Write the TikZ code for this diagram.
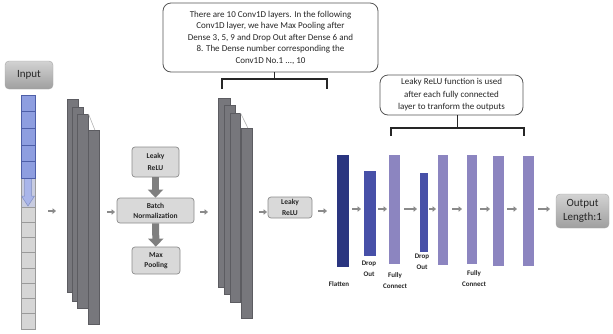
\documentclass[tikz,border=0pt]{standalone}
\usepackage{fontspec}
\setmainfont{Carlito}
\usetikzlibrary{arrows.meta,calc}
\definecolor{convgray}{HTML}{77777C}
\definecolor{convedge}{HTML}{5C5C61}
\definecolor{navy}{HTML}{2A3580}
\definecolor{dropblue}{HTML}{4750A8}
\definecolor{lav}{HTML}{8C85C0}
\definecolor{cellblue}{HTML}{8E9EE0}
\definecolor{celledge}{HTML}{4E5FA8}
\definecolor{midblue}{HTML}{C8CCE0}
\definecolor{arrowblue}{HTML}{A9B5EA}
\definecolor{cellgray}{HTML}{D6D6D6}
\definecolor{celllines}{HTML}{9A9A9A}
\definecolor{boxfill}{HTML}{D9D9D9}
\definecolor{boxedge}{HTML}{8C8C8C}
\definecolor{arrgray}{HTML}{8A8A8A}
\definecolor{bigarrgray}{HTML}{7F7F7F}
\definecolor{txt}{HTML}{262626}
\definecolor{calledge}{HTML}{555555}
\begin{document}
\begin{tikzpicture}[x=1pt,y=-1pt,
  conv/.style={draw=convedge, fill=convgray, line width=0.5pt, anchor=north west, inner sep=0pt, minimum width=11pt},
  bar/.style={anchor=north west, inner sep=0pt},
  opbox/.style={draw=boxedge, fill=boxfill, rounded corners=3pt, line width=0.7pt, inner sep=0pt, align=center, text=txt, font=\fontsize{7.5}{10}\selectfont\bfseries},
  iobox/.style={draw=gray!70, top color=gray!35, bottom color=gray!75, rounded corners=4pt, inner sep=0pt, align=center, text=txt, font=\fontsize{11}{14}\selectfont},
  callout/.style={draw=calledge, fill=white, rounded corners=8pt, line width=0.8pt, inner sep=0pt, align=center, text=txt},
  sarr/.style={draw=arrgray, line width=1.6pt, -{Triangle[length=3.5pt,width=5.5pt]}},
  bigarr/.style={draw=bigarrgray, line width=7pt, -{Triangle[length=8pt,width=15pt]}},
  brace/.style={draw=txt, line width=1.1pt},
  lbl/.style={inner sep=0pt, align=center, text=txt, font=\fontsize{7}{11}\selectfont\bfseries}
]
\useasboundingbox (0,0) rectangle (613,333);

% Input box and column
\node[iobox, minimum width=48pt, minimum height=28pt] (inp) at (29,75) {Input};
\node[bar, fill=midblue, draw=celllines, line width=0.5pt, minimum width=14pt, minimum height=29pt] (mid) at (21,178) {};
\fill[arrowblue, draw=celledge!70, line width=0.5pt] (24.5,178) -- (31.5,178) -- (31.5,196) -- (34.5,196) -- (28,206) -- (21.5,196) -- (24.5,196) -- cycle;
\node[bar, fill=cellblue, draw=celledge, line width=0.7pt, minimum width=14pt, minimum height=83pt] (blue) at (21,95) {};
\foreach \yy in {111.6,128.2,144.8,161.4} \draw[celledge, line width=0.6pt] (21,\yy) -- (35,\yy);
\node[bar, fill=cellgray, draw=celllines, line width=0.6pt, minimum width=14pt, minimum height=122pt] (grayc) at (21,207) {};
\foreach \k in {1,...,7} \draw[celllines, line width=0.6pt] (21,207+15.25*\k) -- (35,207+15.25*\k);

% Conv stack 1
\node[conv, minimum height=193pt] (s1a) at (67,99) {};
\node[conv, minimum height=194pt] (s1b) at (72,107) {};
\node[conv, minimum height=194pt] (s1c) at (77,114) {};
\node[conv, minimum height=194pt] (s1d) at (88,130) {};
\draw[gray!60, line width=0.6pt] (s1c.north east) -- ($(s1d.north west)!0.6!(s1d.north east)$);

% operation boxes
\node[opbox, minimum width=47pt, minimum height=30pt, font=\fontsize{7.5}{11.5}\selectfont\bfseries] (lr1) at (155.5,162) {Leaky\\ReLU};
\node[opbox, minimum width=77pt, minimum height=25pt] (bn) at (155.5,210.5) {Batch\\Normalization};
\node[opbox, minimum width=48pt, minimum height=27pt] (mp) at (156,260.5) {Max\\Pooling};
\draw[bigarr] (lr1) -- (bn);
\draw[bigarr] (bn) -- (mp);

% Conv stack 2
\node[conv, minimum width=12pt, minimum height=189pt] (s2a) at (218,98) {};
\node[conv, minimum height=189pt] (s2b) at (224,105) {};
\node[conv, minimum width=10pt, minimum height=189pt] (s2c) at (230,113) {};
\node[conv, minimum height=190pt] (s2d) at (241,128) {};
\draw[gray!60, line width=0.6pt] (s2c.north east) -- ($(s2d.north west)!0.6!(s2d.north east)$);

\node[opbox, minimum width=44pt, minimum height=21pt, font=\fontsize{7.5}{11}\selectfont\bfseries] (lr2) at (290,207.5) {Leaky\\ReLU};

% dense bars
\node[bar, fill=navy, minimum width=12pt, minimum height=112pt] (b1) at (337,155) {};
\node[bar, fill=dropblue, minimum width=12pt, minimum height=85pt] (b2) at (364,171) {};
\node[bar, fill=lav, minimum width=11pt, minimum height=109pt] (b3) at (389,155) {};
\node[bar, fill=dropblue, minimum width=8pt, minimum height=79pt] (b4) at (420,173) {};
\node[bar, fill=lav, minimum width=10pt, minimum height=110pt] (b5) at (438,155) {};
\node[bar, fill=lav, minimum width=10pt, minimum height=109pt] (b6) at (467,155) {};
\node[bar, fill=lav, minimum width=11pt, minimum height=110pt] (b7) at (493,156) {};
\node[bar, fill=lav, minimum width=11pt, minimum height=110pt] (b8) at (523,156) {};

\node[iobox, minimum width=53pt, minimum height=34pt] (out) at (582.5,211) {Output\\Length:1};

% labels
\node[lbl] (lf) at (339,284) {Flatten};
\node[lbl] (ld1) at (369,269) {Drop\\Out};
\node[lbl] (lfc1) at (395,280.5) {Fully\\Connect};
\node[lbl] (ld2) at (422,262) {Drop\\Out};
\node[lbl] (lfc2) at (474,278.5) {Fully\\Connect};

% small arrows
\coordinate (a1s) at (48,211);  \coordinate (a1e) at (56,211);
\coordinate (a2s) at (107,212); \coordinate (a2e) at (115,212);
\coordinate (a3s) at (200,212); \coordinate (a3e) at (208,212);
\coordinate (a4s) at (259,212); \coordinate (a4e) at (267,212);
\coordinate (a5s) at (318,211); \coordinate (a5e) at (327,211);
\coordinate (a6s) at (352,209); \coordinate (a6e) at (361,209);
\coordinate (a7s) at (378,209); \coordinate (a7e) at (387,209);
\coordinate (a8s) at (404,209); \coordinate (a8e) at (417,209);
\coordinate (a9s) at (429,209); \coordinate (a9e) at (436,209);
\coordinate (a10s) at (452,209); \coordinate (a10e) at (462,209);
\coordinate (a11s) at (480,209); \coordinate (a11e) at (490,209);
\coordinate (a12s) at (507,209); \coordinate (a12e) at (517,209);
\coordinate (a13s) at (538,209); \coordinate (a13e) at (550,209);
\foreach \i in {1,...,13} \draw[sarr] (a\i s) -- (a\i e);

% callout 1
\node[callout, minimum width=215pt, minimum height=69pt, font=\fontsize{9}{11.5}\selectfont] (c1) at (270.5,37.5)
  {There are 10 Conv1D layers. In the following\\Conv1D layer, we have Max Pooling after\\Dense 3, 5, 9 and Drop Out after Dense 6 and\\8. The Dense number corresponding the\\Conv1D No.1 ..., 10};
\coordinate (br1l) at (222,89);
\coordinate (br1r) at (327,89);
\draw[brace] (br1l) -- ++(0,-10) -| (br1r);
\draw[brace] ($(br1l)!0.5!(br1r)+(0,-10)$) -- (c1.south -| {$(br1l)!0.5!(br1r)$});

% callout 2
\node[callout, minimum width=143pt, minimum height=40pt, font=\fontsize{9}{12.5}\selectfont] (c2) at (451.5,95)
  {Leaky ReLU function is used\\after each fully connected\\layer to tranform the outputs};
\coordinate (br2l) at (391,136);
\coordinate (br2r) at (524,136);
\draw[brace] (br2l) -- ++(0,-8) -| (br2r);
\draw[brace] ($(br2l)!0.5!(br2r)+(0,-8)$) -- (c2.south -| {$(br2l)!0.5!(br2r)$});
\end{tikzpicture}
\end{document}
